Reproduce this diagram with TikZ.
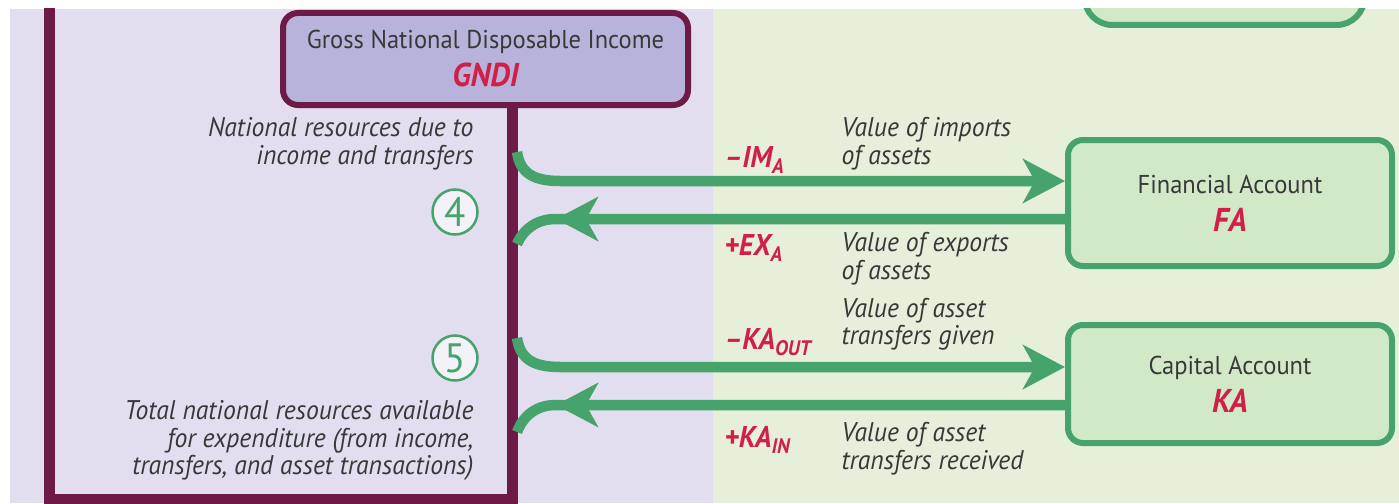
\documentclass[tikz,border=0pt]{standalone}
\usepackage{fontspec}
\setmainfont{PT Sans}[FakeStretch=0.95]
\usetikzlibrary{arrows.meta}
\definecolor{lavbg}{HTML}{E2DEEF}
\definecolor{grnbg}{HTML}{E6EFD9}
\definecolor{maroon}{HTML}{6D1A47}
\definecolor{gndifill}{HTML}{B8B3DA}
\definecolor{grnline}{HTML}{46A36C}
\definecolor{grnfill}{HTML}{D2E9C7}
\definecolor{redlab}{HTML}{D21F4A}
\definecolor{txtgray}{HTML}{383838}
\colorlet{circfill}{white!60!lavbg}
\newcommand\notefont{\fontsize{27}{27.5}\selectfont\itshape}
\newcommand\boxfont{\fontsize{25.8}{38}\selectfont}
\newcommand\redfont{\fontsize{33}{38}\selectfont\bfseries\itshape\color{redlab}}
\newcommand\labfont{\fontsize{30}{32}\selectfont\bfseries\itshape}
\begin{document}
\begin{tikzpicture}[x=1pt,y=-1pt,
  box/.style={draw,rounded corners=15pt,line width=6pt,align=center,inner sep=0pt,text=txtgray,font=\boxfont},
  gndibox/.style={box,draw=maroon,fill=gndifill,minimum width=405pt,minimum height=92pt},
  acctbox/.style={box,draw=grnline,fill=grnfill,minimum width=324pt},
  flow/.style={draw=grnline,line width=10.5pt},
  tip/.style={-{Stealth[length=42pt,width=44pt,inset=12pt]}},
  frame/.style={draw=maroon,line width=11.5pt},
  numcirc/.style={circle,draw=grnline,line width=2.5pt,fill=circfill,minimum size=45pt,inner sep=0pt,text=grnline,font=\fontsize{41}{41}\selectfont},
  note/.style={text=txtgray,font=\notefont,align=right,anchor=east},
  desc/.style={text=txtgray,font=\notefont,align=left,anchor=west},
  flowlab/.style={text=redlab,font=\labfont,anchor=west}]
\useasboundingbox (0,0) rectangle (1399,503);
\fill[white] (0,0) rectangle (1399,503);
\begin{scope}
\clip (10,9) rectangle (1399,503);
\fill[lavbg] (10,9) rectangle (713,503);
\fill[grnbg] (713,9) rectangle (1399,503);
% frame round the national resources
\coordinate (trunk) at (512.5,100);
\draw[frame] (49.5,0) |- (512.5,500) -- (trunk);
% boxes
\node[gndibox] (gndi) at (485.5,59) {Gross National Disposable Income\\{\redfont GNDI}};
\node[acctbox,rounded corners=28pt,minimum width=280pt,minimum height=100pt,anchor=south] (topacct) at (1224.5,28) {};
\node[acctbox,minimum height=126pt] (fa) at (1230,203) {Financial Account\\{\redfont FA}};
\node[acctbox,minimum height=118pt] (ka) at (1230,384) {Capital Account\\{\redfont KA}};
% flows with the financial account
\coordinate (a1s) at (517,152);
\draw[flow,tip] (a1s) .. controls (520,172) and (532,181) .. (560,181) -- ([yshift=22pt]fa.west);
\coordinate (a2h) at (556,219);
\coordinate (a2e) at (517,244);
\draw[flow] ([yshift=-16pt]fa.west) -- (a2h) .. controls (538,219) and (524,228) .. (a2e);
\draw[flow,tip] ([xshift=60pt]a2h) -- (a2h);
% flows with the capital account
\coordinate (a3s) at (517,338);
\draw[flow,tip] (a3s) .. controls (520,358) and (532,367) .. (560,367) -- ([yshift=17pt]ka.west);
\coordinate (a4h) at (556,405);
\coordinate (a4e) at (517,432);
\draw[flow] ([yshift=-21pt]ka.west) -- (a4h) .. controls (538,405) and (524,414) .. (a4e);
\draw[flow,tip] ([xshift=60pt]a4h) -- (a4h);
% steps
\node[numcirc] (c4) at (455,212) {4};
\node[numcirc] (c5) at (455,358) {5};
% notes
\node[note] (natres) at (477,143.5) {National resources due to\\income and transfers};
\node[note] (totres) at (477,440.5) {Total national resources available\\for expenditure (from income,\\transfers, and asset transactions)};
\node[flowlab] (imA) at (721,160) {–IM\textsubscript{A}};
\node[flowlab] (exA) at (721,248) {+EX\textsubscript{A}};
\node[flowlab] (kaout) at (721,342) {–KA\textsubscript{OUT}};
\node[flowlab] (kain) at (721,440) {+KA\textsubscript{IN}};
\node[desc] (imAdesc) at (838,143.5) {Value of imports\\of assets};
\node[desc] (exAdesc) at (838,258.5) {Value of exports\\of assets};
\node[desc] (kaoutdesc) at (838,324) {Value of asset\\transfers given};
\node[desc] (kaindesc) at (838,448.5) {Value of asset\\transfers received};
\end{scope}
\end{tikzpicture}
\end{document}
